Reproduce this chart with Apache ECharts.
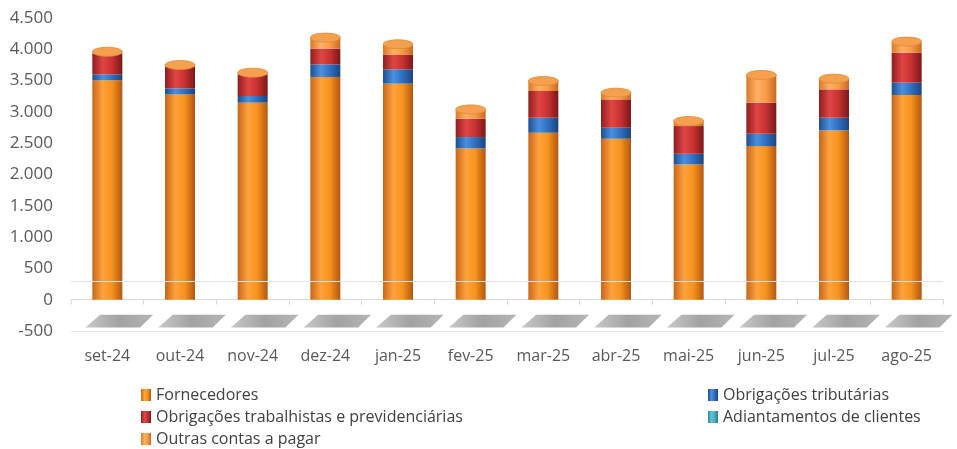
<!DOCTYPE html>
<html>
<head>
<meta charset="utf-8">
<script src="https://cdn.jsdelivr.net/npm/echarts@6/dist/echarts.min.js"></script>
<style>
html,body{margin:0;padding:0;background:#fff;}
#chart{width:957px;height:449px;}
</style>
</head>
<body>
<div id="chart"></div>
<script>
const categories = ['set-24','out-24','nov-24','dez-24','jan-25','fev-25','mar-25','abr-25','mai-25','jun-25','jul-25','ago-25'];
const fornecedores = [3505, 3280, 3147, 3558, 3451, 2416, 2667, 2571, 2160, 2454, 2704, 3270];
const obrigTributarias = [95, 96, 107, 202, 229, 182, 240, 176, 171, 197, 203, 197];
const obrigTrabalhistas = [330, 342, 343, 251, 230, 293, 427, 453, 443, 496, 453, 480];
const adiantamentos = [0, 0, 0, 0, 0, 0, 0, 0, 0, 0, 0, 0];
const outrasContas = [30, 30, 30, 176, 170, 149, 160, 107, 80, 443, 171, 176];
const yTicks = [-500, 0, 500, 1000, 1500, 2000, 2500, 3000, 3500, 4000, 4500];

const seriesNames = ['Fornecedores','Obrigações tributárias','Obrigações trabalhistas e previdenciárias','Adiantamentos de clientes','Outras contas a pagar'];

const totals = categories.map((c, i) =>
  fornecedores[i] + obrigTributarias[i] + obrigTrabalhistas[i] + adiantamentos[i] + outrasContas[i]);

function cyl(c0, c1, c2, c3) {
  return new echarts.graphic.LinearGradient(0, 0, 1, 0, [
    {offset: 0, color: c0}, {offset: 0.35, color: c1}, {offset: 0.65, color: c2}, {offset: 1, color: c3}
  ]);
}
const colOrange = cyl('#C8661A', '#FFA23C', '#F7931E', '#B35710');
const colBlue = cyl('#1F4E8C', '#4A90E0', '#2F6FC0', '#1B4580');
const colRed = cyl('#8E1E1E', '#E04545', '#C83232', '#7A1818');
const colTeal = cyl('#2E8BA0', '#5BC4D8', '#4BACC6', '#2A7C90');
const colLight = cyl('#D9782A', '#FFB064', '#F99C48', '#C66A20');

const fmt = v => String(v).replace(/\B(?=(\d{3})+(?!\d))/g, '.');
const FONT = 'Open Sans';

function barSeries(name, data, color) {
  return {
    name, type: 'bar', stack: 'total', data, barWidth: 30,
    itemStyle: {color}, xAxisIndex: 0, yAxisIndex: 0, z: 3
  };
}

function legendAt(name, left, top) {
  return {
    data: [name], left, top, itemWidth: 10, itemHeight: 12, itemGap: 0,
    icon: 'rect',
    textStyle: {fontFamily: FONT, fontSize: 16, color: '#404040'},
    selectedMode: false
  };
}

const chart = echarts.init(document.getElementById('chart'), null, {renderer: 'canvas'});
chart.setOption({
  animation: false,
  backgroundColor: '#ffffff',
  grid: {left: 71, right: 14, top: 18, bottom: 118, containLabel: false},
  legend: [
    legendAt(seriesNames[0], 136, 382),
    legendAt(seriesNames[1], 703, 382),
    legendAt(seriesNames[2], 136, 404),
    legendAt(seriesNames[3], 703, 404),
    legendAt(seriesNames[4], 136, 426)
  ],
  xAxis: [{
    type: 'category', data: categories, position: 'bottom',
    axisLine: {onZero: false, lineStyle: {color: '#d9d9d9'}},
    axisTick: {show: false},
    axisLabel: {fontFamily: FONT, fontSize: 16, color: '#595959', margin: 17, interval: 0}
  }, {
    type: 'category', data: categories, position: 'top',
    axisLine: {onZero: true, lineStyle: {color: '#d9d9d9'}},
    axisTick: {show: true, inside: true, length: 5, lineStyle: {color: '#d9d9d9'}},
    axisLabel: {show: false}
  }],
  yAxis: {
    type: 'value', min: -500, max: 4500, interval: 500,
    axisLine: {show: false}, axisTick: {show: false},
    splitLine: {show: false},
    axisLabel: {fontFamily: FONT, fontSize: 17, color: '#595959', margin: 18, formatter: v => fmt(v)}
  },
  series: [
    {
      type: 'custom', name: 'floor', silent: true, z: 1,
      data: categories.map((c, i) => [i]),
      encode: {x: 0},
      renderItem: (params, api) => {
        const i = api.value(0);
        const bw = api.size([1, 0])[0];
        const top = api.coord([i, -240]);
        const bot = api.coord([i, -445]);
        return {
          type: 'polygon',
          shape: {points: [
            [top[0] - 0.10 * bw, top[1]], [top[0] + 0.63 * bw, top[1]],
            [bot[0] + 0.45 * bw, bot[1]], [bot[0] - 0.30 * bw, bot[1]]
          ]},
          style: {fill: new echarts.graphic.LinearGradient(0, 0, 1, 0, [
            {offset: 0, color: '#c8c8c8'}, {offset: 0.5, color: '#a2a2a2'}, {offset: 1, color: '#b5b5b5'}])}
        };
      }
    },
    Object.assign(barSeries(seriesNames[0], fornecedores, colOrange), {
      markLine: {
        silent: true, symbol: 'none', label: {show: false},
        lineStyle: {color: '#e3e3e3', type: 'solid', width: 1},
        data: [{yAxis: 300}, {yAxis: -500}]
      }
    }),
    barSeries(seriesNames[1], obrigTributarias, colBlue),
    barSeries(seriesNames[2], obrigTrabalhistas, colRed),
    barSeries(seriesNames[3], adiantamentos, colTeal),
    barSeries(seriesNames[4], outrasContas, colLight),
    {
      type: 'custom', name: 'caps', silent: true, z: 4,
      data: totals.map((t, i) => [i, t]),
      encode: {x: 0, y: 1},
      renderItem: (params, api) => {
        const p = api.coord([api.value(0), api.value(1)]);
        return {
          type: 'ellipse',
          shape: {cx: p[0], cy: p[1], rx: 15, ry: 4.5},
          style: {fill: '#F4A04E', stroke: '#E08A35', lineWidth: 0.8}
        };
      }
    }
  ]
});
</script>
</body>
</html>
